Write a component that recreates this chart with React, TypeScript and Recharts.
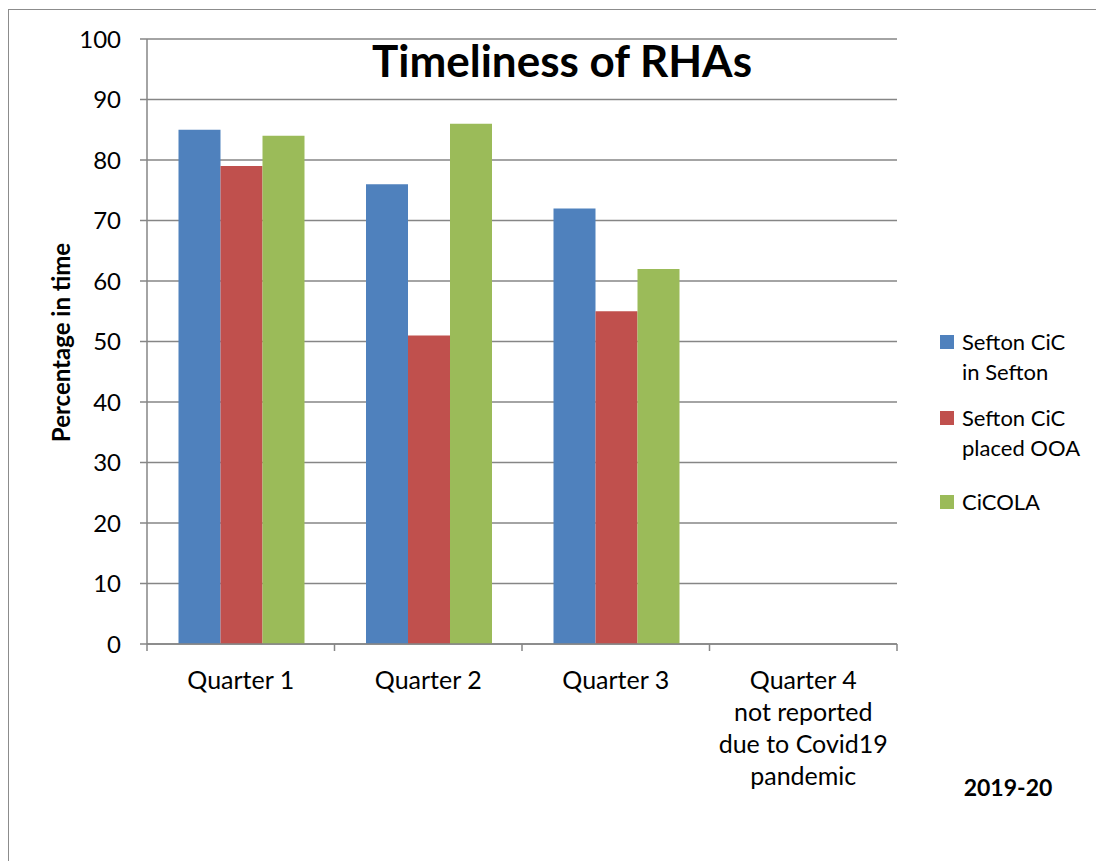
import { Bar, BarChart, CartesianGrid, XAxis, YAxis } from 'recharts';

const quarters = ['Quarter 1', 'Quarter 2', 'Quarter 3', 'Quarter 4\nnot reported\ndue to Covid19\npandemic'];
const inSefton = [85, 76, 72, null];
const placedOOA = [79, 51, 55, null];
const cicola = [84, 86, 62, null];
const yTicks = [0, 10, 20, 30, 40, 50, 60, 70, 80, 90, 100];

const series = [
  { key: 'inSefton', name: 'Sefton CiC\nin Sefton', color: '#4F81BD' },
  { key: 'placedOOA', name: 'Sefton CiC\nplaced OOA', color: '#C0504D' },
  { key: 'cicola', name: 'CiCOLA', color: '#9BBB59' },
];
const legendGaps = [16, 24, 0];

const data = quarters.map((q, i) => ({
  quarter: q,
  inSefton: inSefton[i],
  placedOOA: placedOOA[i],
  cicola: cicola[i],
}));

const FONT = 'Lato, "Open Sans", sans-serif';
const GRID = '#868686';

// category label plus the boundary tick marks either side of each band
function QuarterTick(props: any) {
  const { x, y, payload, index, visibleTicksCount } = props;
  const half = payload.offset ?? 0;
  const lines = String(payload.value).split('\n');
  return (
    <g>
      <line x1={x - half} x2={x - half} y1={y} y2={y + 7} stroke={GRID} strokeWidth={1.5} />
      {index === visibleTicksCount - 1 && (
        <line x1={x + half} x2={x + half} y1={y} y2={y + 7} stroke={GRID} strokeWidth={1.5} />
      )}
      <text x={x} y={y + 45} textAnchor="middle" fontFamily={FONT} fontSize={25} fill="#000">
        {lines.map((l, i) => (
          <tspan key={i} x={x} dy={i === 0 ? 0 : 32}>
            {l}
          </tspan>
        ))}
      </text>
    </g>
  );
}

function YTitle(props: any) {
  const { viewBox } = props;
  const cx = 52;
  const cy = viewBox.y + viewBox.height / 2 + 1;
  return (
    <text
      x={cx}
      y={cy}
      transform={`rotate(-90 ${cx} ${cy})`}
      textAnchor="middle"
      dominantBaseline="central"
      fontFamily={FONT}
      fontSize={24}
      fontWeight="bold"
      fill="#000"
    >
      Percentage in time
    </text>
  );
}

export default function App() {
  return (
    <div style={{ position: 'relative', width: 1096, height: 853, overflow: 'hidden', fontFamily: FONT }}>
      <div
        style={{
          position: 'absolute',
          left: 0,
          top: 1,
          width: 1200,
          height: 1000,
          borderLeft: '1.5px solid #8c8c8c',
          borderTop: '1.5px solid #8c8c8c',
          pointerEvents: 'none',
        }}
      />
      <BarChart
        width={1096}
        height={853}
        data={data}
        margin={{ top: 31, right: 207, bottom: 0, left: 0 }}
        barCategoryGap="16.8%"
        barGap={0}
      >
        <CartesianGrid vertical={false} stroke={GRID} strokeWidth={1.5} />
        <XAxis
          dataKey="quarter"
          height={217}
          interval={0}
          tickLine={false}
          tickSize={0}
          tickMargin={0}
          axisLine={{ stroke: GRID, strokeWidth: 1.5 }}
          tick={<QuarterTick />}
        />
        <YAxis
          width={139}
          domain={[0, 100]}
          ticks={yTicks}
          interval={0}
          tickSize={7}
          tickMargin={19}
          tickLine={{ stroke: GRID, strokeWidth: 1.5 }}
          axisLine={{ stroke: GRID, strokeWidth: 1.5 }}
          tick={{ fill: '#000', fontSize: 24, fontFamily: FONT }}
          label={<YTitle />}
        />
        {series.map(s => (
          <Bar key={s.key} dataKey={s.key} fill={s.color} isAnimationActive={false} />
        ))}
      </BarChart>
      <div
        style={{
          position: 'absolute',
          left: 254,
          top: 26,
          width: 600,
          textAlign: 'center',
          fontSize: 44,
          fontWeight: 'bold',
          lineHeight: '52px',
        }}
      >
        Timeliness of RHAs
      </div>
      <div style={{ position: 'absolute', left: 932, top: 319 }}>
        {series.map((s, i) => (
          <div key={s.key} style={{ display: 'flex', alignItems: 'flex-start', marginBottom: legendGaps[i] }}>
            <span
              style={{
                display: 'inline-block',
                width: 14,
                height: 14,
                background: s.color,
                marginTop: 8,
                marginRight: 8,
              }}
            />
            <span style={{ fontSize: 22, lineHeight: '30px', whiteSpace: 'pre' }}>{s.name}</span>
          </div>
        ))}
      </div>
      <div
        style={{
          position: 'absolute',
          left: 950,
          top: 765,
          width: 100,
          textAlign: 'center',
          fontSize: 23,
          fontWeight: 'bold',
        }}
      >
        2019-20
      </div>
    </div>
  );
}
